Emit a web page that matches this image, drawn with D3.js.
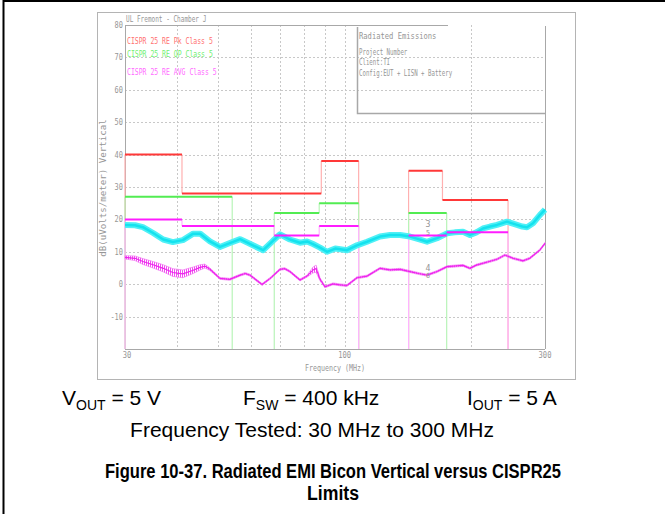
<!DOCTYPE html>
<html>
<head>
<meta charset="utf-8">
<script src="https://cdn.jsdelivr.net/npm/d3@7"></script>
<style>
  body { margin: 0; background: #fff; }
  svg { display: block; }
</style>
</head>
<body>
<div id="chart"></div>
<script>
// Data
var yTicks = [80, 70, 60, 50, 40, 30, 20, 10, 0, -10];
var xGrid = [40, 50, 60, 70, 80, 90, 100, 200];
var xLabels = [30, 100, 300];
var legendNames = ['CISPR 25 RE Pk Class 5', 'CISPR 25 RE QP Class 5', 'CISPR 25 RE AVG Class 5'];
var infoLines = ['Project Number', 'Client:TI', 'Config:EUT + LISN + Battery'];

// limit bands: [start MHz, stop MHz, level dBuV/m]
var peakLimit = [[30, 41, 40], [41, 88, 28], [88, 108, 38], [142, 171, 35], [171, 245, 26]];
var qpLimit = [[30, 54, 27], [68, 87, 22], [87, 108, 25], [142, 175, 22]];
var avgLimit = [[30, 41, 20], [41, 68, 18], [68, 87, 15], [87, 108, 18], [142, 175, 15], [175, 245, 16]];

// measured peak trace (cyan)
var peakFreq = [30, 31.7, 33.1, 35, 37, 39, 41.2, 43.6, 45.3, 47.8, 50.5, 53.3, 56.4, 60.5, 64, 67.5, 70.2, 74.1, 78.3, 81.4, 84.1, 87.4, 90.8, 95, 101.3, 107, 113.1, 121.4, 128.3, 135.5, 143.1, 150, 157.1, 166, 175.3, 183, 191.4, 198.8, 206, 213.5, 222, 230.6, 243.6, 257.3, 265, 271.8, 280.9, 291.9, 300];
var peakLevel = [18.3, 18.2, 17.6, 15.8, 13.8, 13.0, 13.6, 15.6, 15.6, 13.2, 11.5, 12.7, 13.9, 12.0, 10.5, 13.4, 15.4, 13.8, 12.8, 13.2, 12.4, 11.3, 10.0, 11.0, 10.5, 12.0, 13.1, 14.7, 15.2, 15.2, 14.7, 13.9, 13.1, 14.2, 15.7, 16.0, 16.2, 15.2, 16.0, 17.2, 17.8, 18.3, 19.3, 18.3, 17.8, 17.6, 18.8, 21.4, 23.0];

// measured average trace (magenta) and its ripple half-width
var avgFreq = [30, 31.7, 33.1, 35, 37, 39, 41.2, 43.6, 45.3, 46.5, 47.8, 50.5, 53.3, 56.4, 58, 59.5, 63.6, 66.5, 70.2, 72, 74.1, 78.3, 81.4, 84.1, 85.5, 87.4, 89.8, 93.8, 97.5, 101.3, 107, 113.1, 121.4, 128.3, 135.5, 143.1, 150, 157.1, 166, 175.3, 191.4, 198.8, 206, 221, 230.6, 240.9, 251.7, 265.9, 276, 291.9, 300];
var avgLevel = [8.3, 8.0, 7.0, 6.0, 4.9, 3.6, 3.2, 4.3, 5.2, 5.6, 4.6, 1.8, 1.5, 2.8, 3.3, 2.8, -0.1, 1.8, 4.6, 4.8, 3.9, 1.3, 2.5, 4.4, 4.8, 1.5, -0.8, 0.1, -0.2, -0.4, 2.0, 2.5, 4.9, 4.4, 4.6, 3.9, 3.3, 2.8, 3.9, 5.4, 5.8, 4.9, 5.9, 7.0, 7.7, 9.0, 8.0, 7.2, 8.0, 10.6, 12.6];
var avgRipple = [0.5, 0.7, 0.9, 1.0, 1.1, 1.2, 1.2, 1.0, 0.8, 0.6, 0.4, 0.3, 0.3, 0.3, 0.3, 0.3, 0.3, 0.3, 0.3, 0.3, 0.3, 0.3, 0.3, 0.9, 1.1, 0.5, 0.3, 0.3, 0.3, 0.3, 0.3, 0.3, 0.3, 0.3, 0.3, 0.3, 0.3, 0.3, 0.3, 0.3, 0.3, 0.3, 0.3, 0.3, 0.3, 0.3, 0.3, 0.3, 0.3, 0.3, 0.3];

var width = 665, height = 514;
var plot = { left: 125, right: 545, top: 25, bottom: 349 };

var svg = d3.select('#chart').append('svg')
  .attr('width', width)
  .attr('height', height);

var x = d3.scaleLog().domain([30, 300]).range([plot.left, plot.right]);
var y = d3.scaleLinear().domain([-20, 80]).range([plot.bottom, plot.top]);

var grey = '#969696';

// hatch pattern for the rippled part of the average trace
var defs = svg.append('defs');
defs.append('pattern')
  .attr('id', 'magHatch')
  .attr('width', 2).attr('height', 4)
  .attr('patternUnits', 'userSpaceOnUse')
  .append('rect').attr('width', 1).attr('height', 4).attr('fill', '#f050f0');

// plotter-style text, squeezed to a fixed width per character
function ptext(g, px, py, str, charW, opts) {
  opts = opts || {};
  return g.append('text')
    .attr('x', px)
    .attr('y', py)
    .attr('font-family', 'DejaVu Sans Mono')
    .attr('font-size', opts.size || 8.5)
    .attr('fill', opts.fill || grey)
    .attr('text-anchor', opts.anchor || 'start')
    .attr('textLength', str.length * charW)
    .attr('lengthAdjust', 'spacingAndGlyphs')
    .text(str);
}

// page border
svg.append('line').attr('x1', 3).attr('x2', width).attr('y1', 1).attr('y2', 1)
  .attr('stroke', '#000').attr('stroke-width', 2);
svg.append('line').attr('x1', 3.5).attr('x2', 3.5).attr('y1', 0).attr('y2', height)
  .attr('stroke', '#000').attr('stroke-width', 2);

// image frame
svg.append('rect')
  .attr('x', 97.5).attr('y', 12.5).attr('width', 478).attr('height', 367)
  .attr('fill', 'none').attr('stroke', '#b4b4b4');

// grid
var grid = svg.append('g')
  .attr('stroke', '#c8c8c8')
  .attr('stroke-dasharray', '2,2');

grid.selectAll('.hg')
  .data(yTicks.filter(function (d) { return d < 80; }))
  .enter()
  .append('line')
  .attr('x1', plot.left).attr('x2', plot.right)
  .attr('y1', function (d) { return Math.round(y(d)) + 0.5; })
  .attr('y2', function (d) { return Math.round(y(d)) + 0.5; });

grid.selectAll('.vg')
  .data(xGrid)
  .enter()
  .append('line')
  .attr('x1', function (d) { return Math.round(x(d)) + 0.5; })
  .attr('x2', function (d) { return Math.round(x(d)) + 0.5; })
  .attr('y1', plot.top).attr('y2', plot.bottom);

// plot border (top line stops at the info box)
var border = svg.append('g').attr('stroke', '#a8a8a8').attr('fill', 'none');
border.append('line').attr('x1', plot.left + 0.5).attr('x2', plot.left + 0.5)
  .attr('y1', plot.top).attr('y2', plot.bottom);
border.append('line').attr('x1', plot.left).attr('x2', plot.right)
  .attr('y1', plot.bottom + 0.5).attr('y2', plot.bottom + 0.5);
border.append('line').attr('x1', plot.left).attr('x2', 448)
  .attr('y1', plot.top + 0.5).attr('y2', plot.top + 0.5);
border.append('line').attr('x1', plot.right + 0.5).attr('x2', plot.right + 0.5)
  .attr('y1', plot.top + 1).attr('y2', plot.bottom);

// info box
border.append('polyline')
  .attr('points', '357.5,27 357.5,113.5 ' + (plot.right + 0.5) + ',113.5')
  .attr('stroke-width', 1.5);

// limit lines
function limitParts(bands) {
  var verts = [], hors = [];
  bands.forEach(function (b, i) {
    var prev = bands[i - 1], next = bands[i + 1];
    var startFrom = (prev && prev[1] === b[0]) ? prev[2] : -20;
    verts.push([b[0], startFrom, b[2]]);
    hors.push(b);
    if (!next || next[0] !== b[1]) verts.push([b[1], b[2], -20]);
  });
  return { verts: verts, hors: hors };
}

var limits = [
  { bands: peakLimit, line: '#ff3838', light: '#ffb0b0' },
  { bands: qpLimit, line: '#52ec52', light: '#b8f4b8' },
  { bands: avgLimit, line: '#ff1cff', light: '#ffb4ff' }
];

var vertLayer = svg.append('g');
var traceLayer = svg.append('g');
var horLayer = svg.append('g');

limits.forEach(function (l) {
  var parts = limitParts(l.bands);
  vertLayer.append('g').selectAll('line')
    .data(parts.verts)
    .enter()
    .append('line')
    .attr('x1', function (d) { return x(d[0]); })
    .attr('x2', function (d) { return x(d[0]); })
    .attr('y1', function (d) { return y(d[1]); })
    .attr('y2', function (d) { return y(d[2]); })
    .attr('stroke', l.light)
    .attr('stroke-width', 1.2);
  horLayer.append('g').selectAll('line')
    .data(parts.hors)
    .enter()
    .append('line')
    .attr('x1', function (d) { return x(d[0]); })
    .attr('x2', function (d) { return x(d[1]); })
    .attr('y1', function (d) { return y(d[2]); })
    .attr('y2', function (d) { return y(d[2]); })
    .attr('stroke', l.line)
    .attr('stroke-width', 2);
});

// peak trace (cyan)
var peakData = peakFreq.map(function (f, i) { return [f, peakLevel[i]]; });
var line = d3.line()
  .x(function (d) { return x(d[0]); })
  .y(function (d) { return y(d[1]); });

traceLayer.append('path')
  .datum(peakData)
  .attr('d', line)
  .attr('fill', 'none')
  .attr('stroke', '#4ff0f6')
  .attr('stroke-width', 6)
  .attr('stroke-linejoin', 'round');
traceLayer.append('path')
  .datum(peakData)
  .attr('d', line)
  .attr('fill', 'none')
  .attr('stroke', '#14e2ee')
  .attr('stroke-width', 2.5)
  .attr('stroke-linejoin', 'round');

// average trace (magenta)
var avgData = avgFreq.map(function (f, i) { return [f, avgLevel[i], avgRipple[i]]; });
traceLayer.append('path')
  .datum(avgData)
  .attr('d', d3.area()
    .x(function (d) { return x(d[0]); })
    .y0(function (d) { return y(d[1] - d[2]); })
    .y1(function (d) { return y(d[1] + d[2]); }))
  .attr('fill', 'url(#magHatch)')
  .attr('stroke', '#f27af2')
  .attr('stroke-width', 0.7);
traceLayer.append('path')
  .datum(avgData)
  .attr('d', line)
  .attr('fill', 'none')
  .attr('stroke', '#ee22ee')
  .attr('stroke-width', 1.2);

// axis labels
var labels = svg.append('g');
yTicks.forEach(function (t) {
  ptext(labels, 123, y(t) + 3, String(t), 4.2, { anchor: 'end' });
});
xLabels.forEach(function (t) {
  ptext(labels, x(t) + (t === 30 ? 2 : 0), 358, String(t), 4.3, { anchor: 'middle' });
});
ptext(labels, 335, 371, 'Frequency (MHz)', 4, { anchor: 'middle' });
ptext(labels, 0, 0, 'dB(uVolts/meter) Vertical', 5.5, { anchor: 'middle' })
  .attr('transform', 'translate(106,188) rotate(-90)');

// header, legend and info text
ptext(labels, 126, 22, 'UL Fremont - Chamber J', 3.65);
var legendColors = ['#ff7070', '#70f070', '#ff6cff'];
var legendY = [44, 57, 75];
legendNames.forEach(function (n, i) {
  ptext(labels, 127, legendY[i], n, 3.9, { fill: legendColors[i] });
});
ptext(labels, 359, 39, 'Radiated Emissions', 4.3, { size: 9 });
var infoY = [55, 65, 76];
infoLines.forEach(function (n, i) {
  ptext(labels, 359, infoY[i], n, 3.45, { size: 8 });
});

// trace markers
ptext(labels, 428, y(17.6), '3', 5, { size: 9, anchor: 'middle' });
ptext(labels, 428, y(15.2), '5', 4, { size: 7, anchor: 'middle' });
ptext(labels, 428, y(4.0), '4', 5, { size: 9, anchor: 'middle' });
ptext(labels, 428, y(1.8), '6', 4, { size: 7, anchor: 'middle' });

// caption
var cap = svg.append('g')
  .attr('font-family', 'Liberation Sans, Arial, sans-serif')
  .attr('fill', '#000');

function subText(px, main, sub, rest) {
  var t = cap.append('text').attr('x', px).attr('y', 405).attr('font-size', 21);
  t.append('tspan').text(main);
  t.append('tspan').attr('font-size', 14).attr('dy', 5).text(sub);
  t.append('tspan').attr('dy', -5).text(rest);
}
subText(62, 'V', 'OUT', ' = 5 V');
subText(243, 'F', 'SW', ' = 400 kHz');
subText(467, 'I', 'OUT', ' = 5 A');

cap.append('text')
  .attr('x', 312).attr('y', 437)
  .attr('text-anchor', 'middle')
  .attr('font-size', 21)
  .text('Frequency Tested: 30 MHz to 300 MHz');

cap.append('text')
  .attr('x', 333).attr('y', 478)
  .attr('text-anchor', 'middle')
  .attr('font-size', 20)
  .attr('font-weight', 'bold')
  .attr('textLength', 456)
  .attr('lengthAdjust', 'spacingAndGlyphs')
  .text('Figure 10-37. Radiated EMI Bicon Vertical versus CISPR25');
cap.append('text')
  .attr('x', 333).attr('y', 500)
  .attr('text-anchor', 'middle')
  .attr('font-size', 20)
  .attr('font-weight', 'bold')
  .attr('textLength', 52)
  .attr('lengthAdjust', 'spacingAndGlyphs')
  .text('Limits');
</script>
</body>
</html>
